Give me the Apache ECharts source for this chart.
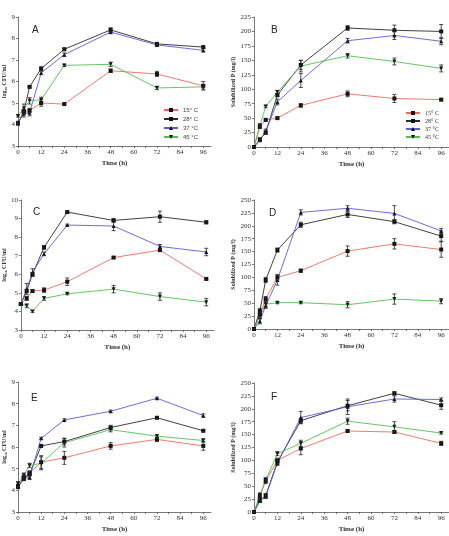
<!DOCTYPE html>
<html>
<head>
<meta charset="utf-8">
<script src="https://cdn.jsdelivr.net/npm/echarts@6/dist/echarts.min.js"></script>
<style>
  html, body { margin: 0; padding: 0; background: #fff; }
  #main { width: 449px; height: 536px; }
</style>
</head>
<body>
<div id="main"></div>
<script>
// sampling times (h)
var times = [0, 3, 6, 12, 24, 48, 72, 96];
var tempNames = ['15° C', '28° C', '37 °C', '45 °C'];
var xLabels = [0, 12, 24, 36, 48, 60, 72, 84, 96];

// A: log10 CFU/ml
var a15 = [4.05, 4.6, 4.65, 5.0, 4.95, 6.5, 6.35, 5.8];
var a28 = [4.05, 4.6, 5.75, 6.6, 7.5, 8.4, 7.75, 7.6];
var a37 = [4.1, 4.5, 4.55, 6.4, 7.25, 8.3, 7.7, 7.45];
var a45 = [4.4, 4.75, 5.1, 5.15, 6.75, 6.8, 5.7, 5.75];
var a15e = [0.05, 0.1, 0.1, 0.15, 0.03, 0.08, 0.12, 0.2];
var a28e = [0.05, 0.1, 0.05, 0.08, 0.05, 0.1, 0.05, 0.05];
var a37e = [0.05, 0.15, 0.15, 0.08, 0.08, 0.08, 0.05, 0.08];
var a45e = [0.05, 0.2, 0.15, 0.12, 0.05, 0.1, 0.08, 0.1];

// B: solubilized P (mg/l)
var b15 = [0, 35, 47, 50, 72, 92, 84, 82];
var b28 = [0, 13, 25, 90, 142, 206, 202, 200];
var b37 = [0, 12, 27, 78, 115, 184, 193, 183];
var b45 = [0, 37, 70, 95, 140, 158, 148, 136];
var b15e = [0, 3, 2, 2, 3, 5, 7, 2];
var b28e = [0, 3, 3, 3, 8, 4, 9, 12];
var b37e = [0, 3, 4, 5, 12, 4, 7, 6];
var b45e = [0, 3, 2, 3, 10, 4, 6, 6];

// C: log10 CFU/ml
var c15 = [4.4, 4.7, 5.1, 5.15, 5.6, 6.9, 7.3, 5.75];
var c28 = [4.4, 5.1, 6.0, 7.45, 9.35, 8.9, 9.1, 8.8];
var c37 = [4.4, 5.2, 6.1, 7.1, 8.65, 8.6, 7.5, 7.2];
var c45 = [4.4, 4.3, 4.0, 4.7, 4.95, 5.2, 4.8, 4.5];
var c15e = [0.05, 0.1, 0.08, 0.12, 0.2, 0.05, 0.05, 0.05];
var c28e = [0.05, 0.1, 0.1, 0.1, 0.05, 0.1, 0.3, 0.08];
var c37e = [0.05, 0.3, 0.2, 0.1, 0.05, 0.25, 0.1, 0.2];
var c45e = [0.05, 0.1, 0.05, 0.1, 0.05, 0.2, 0.2, 0.2];

// D: solubilized P (mg/l)
var d15 = [0, 28, 58, 100, 113, 151, 165, 154];
var d28 = [0, 35, 95, 153, 202, 222, 208, 180];
var d37 = [0, 15, 45, 95, 226, 234, 224, 190];
var d45 = [0, 25, 48, 51, 51, 47, 58, 54];
var d15e = [0, 5, 5, 5, 3, 10, 10, 15];
var d28e = [0, 5, 5, 4, 5, 6, 4, 10];
var d37e = [0, 5, 5, 10, 5, 5, 15, 5];
var d45e = [0, 5, 4, 2, 2, 6, 10, 5];

// E: log10 CFU/ml
var e15 = [4.2, 4.6, 4.8, 5.3, 5.5, 6.05, 6.35, 6.05];
var e28 = [4.15, 4.55, 4.75, 6.05, 6.25, 6.9, 7.35, 6.75];
var e37 = [4.15, 4.55, 4.6, 6.4, 7.25, 7.65, 8.25, 7.45];
var e45 = [4.3, 4.7, 5.15, 5.25, 6.2, 6.8, 6.5, 6.3];
var e15e = [0.05, 0.1, 0.1, 0.3, 0.3, 0.15, 0.1, 0.2];
var e28e = [0.05, 0.1, 0.1, 0.05, 0.15, 0.1, 0.05, 0.05];
var e37e = [0.05, 0.1, 0.1, 0.05, 0.05, 0.05, 0.05, 0.08];
var e45e = [0.1, 0.1, 0.1, 0.3, 0.2, 0.1, 0.08, 0.08];

// F: solubilized P (mg/l)
var f15 = [0, 30, 60, 100, 123, 157, 155, 133];
var f28 = [0, 22, 32, 97, 177, 206, 230, 207];
var f37 = [0, 22, 30, 95, 183, 204, 219, 218];
var f45 = [0, 33, 62, 113, 133, 176, 165, 153];
var f15e = [0, 4, 5, 4, 12, 3, 3, 4];
var f28e = [0, 3, 4, 5, 5, 10, 3, 8];
var f37e = [0, 3, 4, 5, 12, 15, 6, 3];
var f45e = [0, 4, 5, 4, 6, 6, 10, 2];

var lineColors = ['#ee6b5c', '#2a2a2a', '#5b5be0', '#52bf52'];
var symbols = ['rect', 'rect', 'triangle', 'triangle'];
var symbolRot = [0, 0, 0, 180];

var panels = [
  { tag: 'A', vals: [a15, a28, a37, a45], errs: [a15e, a28e, a37e, a45e], min: 3, max: 9, step: 1, cfu: true,
    left: 16, top: 17, h: 129, tx: 27, ty: 20 },
  { tag: 'B', vals: [b15, b28, b37, b45], errs: [b15e, b28e, b37e, b45e], min: 0, max: 225, step: 25, cfu: false,
    left: 254, top: 17, h: 130, tx: 266, ty: 20 },
  { tag: 'C', vals: [c15, c28, c37, c45], errs: [c15e, c28e, c37e, c45e], min: 3, max: 10, step: 1, cfu: true,
    left: 19, top: 200, h: 130, tx: 28, ty: 202 },
  { tag: 'D', vals: [d15, d28, d37, d45], errs: [d15e, d28e, d37e, d45e], min: 0, max: 250, step: 25, cfu: false,
    left: 254, top: 200, h: 129, tx: 264, ty: 203 },
  { tag: 'E', vals: [e15, e28, e37, e45], errs: [e15e, e28e, e37e, e45e], min: 3, max: 9, step: 1, cfu: true,
    left: 16, top: 382, h: 130, tx: 26, ty: 388 },
  { tag: 'F', vals: [f15, f28, f37, f45], errs: [f15e, f28e, f37e, f45e], min: 0, max: 250, step: 25, cfu: false,
    left: 254, top: 383, h: 129, tx: 266, ty: 387 }
];

function errorBar(params, api) {
  var x = api.value(0);
  var lo = api.coord([x, api.value(1)]);
  var hi = api.coord([x, api.value(2)]);
  var cap = 2;
  var st = { stroke: '#222', lineWidth: 0.8 };
  return {
    type: 'group',
    children: [
      { type: 'line', shape: { x1: lo[0], y1: lo[1], x2: hi[0], y2: hi[1] }, style: st },
      { type: 'line', shape: { x1: lo[0] - cap, y1: lo[1], x2: lo[0] + cap, y2: lo[1] }, style: st },
      { type: 'line', shape: { x1: hi[0] - cap, y1: hi[1], x2: hi[0] + cap, y2: hi[1] }, style: st }
    ]
  };
}

var axisFont = { fontFamily: 'Liberation Serif', fontSize: 7, color: '#333' };
var grids = [], xAxes = [], yAxes = [], series = [], titles = [];

panels.forEach(function (p, i) {
  grids.push({ left: p.left, top: p.top, width: 195, height: p.h });
  xAxes.push({
    type: 'value', gridIndex: i, min: 0, max: 100,
    name: 'Time (h)', nameLocation: 'middle', nameGap: 14,
    nameTextStyle: { fontFamily: 'Liberation Serif', fontSize: 7, fontWeight: 'bold', color: '#333' },
    axisLine: { lineStyle: { color: '#555', width: 0.8 } },
    axisTick: { length: 2, inside: false, lineStyle: { color: '#555', width: 0.8 },
      customValues: [0, 6, 12, 18, 24, 30, 36, 42, 48, 54, 60, 66, 72, 78, 84, 90, 96] },
    axisLabel: { customValues: xLabels, margin: 3, fontFamily: axisFont.fontFamily, fontSize: 7, color: '#333' },
    splitLine: { show: false }
  });
  yAxes.push({
    type: 'value', gridIndex: i, min: p.min, max: p.max, interval: p.step,
    name: p.cfu ? 'log₁₀ CFU/ml' : 'Solubilized P (mg/l)',
    nameLocation: 'middle', nameGap: p.cfu ? 11 : 17,
    nameTextStyle: { fontFamily: 'Liberation Serif', fontSize: 6, fontWeight: 'bold', color: '#333' },
    axisLine: { show: true, lineStyle: { color: '#555', width: 0.8 } },
    axisTick: { show: true, length: 2, lineStyle: { color: '#555', width: 0.8 } },
    axisLabel: { margin: 3, fontFamily: axisFont.fontFamily, fontSize: 7, color: '#333' },
    splitLine: { show: false }
  });
  titles.push({ text: p.tag, left: p.tx, top: p.ty,
    textStyle: { fontFamily: 'Liberation Sans', fontSize: 10, fontWeight: 'normal', color: '#222' } });

  p.vals.forEach(function (v, k) {
    series.push({
      name: tempNames[k], type: 'line', xAxisIndex: i, yAxisIndex: i,
      data: times.map(function (t, j) { return [t, v[j]]; }),
      symbol: symbols[k], symbolRotate: symbolRot[k], symbolSize: 4,
      itemStyle: { color: '#111' },
      lineStyle: { color: lineColors[k], width: 0.9 },
      z: 3
    });
    var e = p.errs[k];
    series.push({
      type: 'custom', xAxisIndex: i, yAxisIndex: i, renderItem: errorBar,
      data: times.map(function (t, j) { return [t, v[j] - e[j], v[j] + e[j]]; }),
      silent: true, z: 4
    });
  });
});

var chart = echarts.init(document.getElementById('main'));
chart.setOption({
  animation: false,
  title: titles,
  grid: grids,
  xAxis: xAxes,
  yAxis: yAxes,
  legend: [
    { data: tempNames, orient: 'vertical', left: 158, top: 102, itemGap: 3, itemWidth: 14, itemHeight: 5,
      textStyle: { fontFamily: 'Liberation Sans', fontSize: 6, color: '#444' } },
    { data: tempNames, orient: 'vertical', left: 400, top: 105, itemGap: 2, itemWidth: 14, itemHeight: 5,
      textStyle: { fontFamily: 'Liberation Serif', fontSize: 6, color: '#333' } }
  ],
  series: series
});
</script>
</body>
</html>
